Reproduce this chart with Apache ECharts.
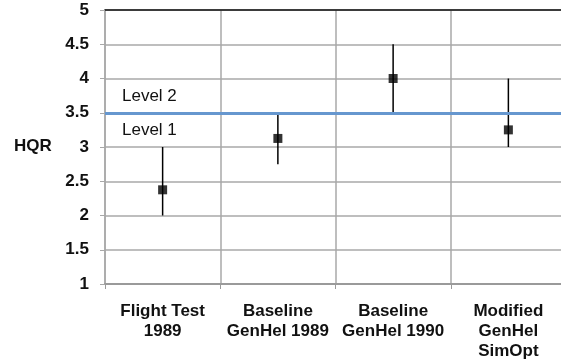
<!DOCTYPE html>
<html>
<head>
<meta charset="utf-8">
<script src="https://cdn.jsdelivr.net/npm/echarts@6/dist/echarts.min.js"></script>
<style>html,body{margin:0;padding:0;background:#fff}#c{width:561px;height:362px}</style>
</head>
<body>
<div id="c"></div>
<script>
var categories = ['Flight Test\n1989', 'Baseline\nGenHel 1989', 'Baseline\nGenHel 1990', 'Modified\nGenHel\nSimOpt'];
var hqrMean = [2.375, 3.125, 4.0, 3.25];
var hqrLow = [2.0, 2.75, 3.5, 3.0];
var hqrHigh = [3.0, 3.5, 4.5, 4.0];
var levelBoundary = 3.5;
var levelLabels = ['Level 2', 'Level 1'];

var font = '"Liberation Sans", Arial, Helvetica, sans-serif';
var chart = echarts.init(document.getElementById('c'), null, {renderer: 'canvas'});
var errData = categories.map(function (c, i) { return [i, hqrLow[i], hqrHigh[i]]; });
var meanData = categories.map(function (c, i) { return [i, hqrMean[i]]; });

chart.setOption({
  animation: false,
  grid: {left: 105, top: 10, width: 461, height: 274, outerBoundsMode: 'none', containLabel: false},
  xAxis: [{
    type: 'category',
    data: categories,
    boundaryGap: true,
    axisLine: {show: true, lineStyle: {color: '#9a9a9a', width: 2}},
    axisTick: {show: true, length: 5, lineStyle: {color: '#9a9a9a', width: 1}},
    splitLine: {show: true, lineStyle: {color: '#a8a8a8', width: 1.5}},
    axisLabel: {
      margin: 17, fontFamily: font, fontSize: 17, fontWeight: 'bold',
      color: '#111', lineHeight: 20, interval: 0
    }
  }, {
    type: 'category',
    position: 'top',
    data: categories,
    axisLine: {show: true, lineStyle: {color: '#111', width: 1.5}},
    axisTick: {show: false},
    axisLabel: {show: false},
    splitLine: {show: false}
  }],
  yAxis: {
    type: 'value',
    min: 1, max: 5, interval: 0.5,
    axisLine: {show: true, lineStyle: {color: '#a8a8a8', width: 1.5}},
    axisTick: {show: true, length: 5, lineStyle: {color: '#a8a8a8', width: 1}},
    splitLine: {show: true, lineStyle: {color: '#a8a8a8', width: 1.5}},
    axisLabel: {margin: 16, fontFamily: font, fontSize: 17, fontWeight: 'bold', color: '#111'}
  },
  series: [{
    type: 'custom',
    data: errData,
    encode: {x: 0, y: [1, 2]},
    renderItem: function (params, api) {
      var lo = api.coord([api.value(0), api.value(1)]);
      var hi = api.coord([api.value(0), api.value(2)]);
      return {type: 'line', shape: {x1: lo[0], y1: lo[1], x2: hi[0], y2: hi[1]},
        style: {stroke: '#000', lineWidth: 1.5}};
    },
    z: 3
  }, {
    type: 'scatter',
    data: meanData,
    symbol: 'rect',
    symbolSize: 9,
    itemStyle: {color: '#000'},
    z: 5,
    markLine: {
      silent: true,
      symbol: ['none', 'none'],
      label: {show: false},
      lineStyle: {color: '#6697cf', width: 3, type: 'solid'},
      data: [{yAxis: levelBoundary}]
    }
  }],
  graphic: [
    {type: 'text', left: 122, top: 88, style: {text: levelLabels[0], fontFamily: font, fontSize: 17, fill: '#111'}},
    {type: 'text', left: 122, top: 122, style: {text: levelLabels[1], fontFamily: font, fontSize: 17, fill: '#111'}},
    {type: 'text', left: 14, top: 138, style: {text: 'HQR', fontFamily: font, fontSize: 17, fontWeight: 'bold', fill: '#111'}}
  ]
});
</script>
</body>
</html>
